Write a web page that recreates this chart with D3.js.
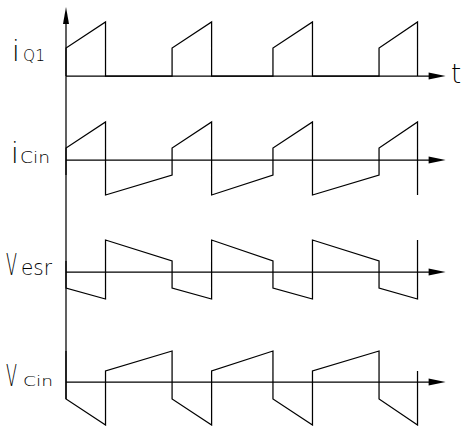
<!DOCTYPE html>
<meta charset="utf-8">
<style>
body { margin: 0; background: #fff; }
.wave { fill: none; stroke: #000; stroke-width: 1.25px; stroke-linejoin: miter; }
.axis line { stroke: #000; stroke-width: 1.25px; }
.lbl { font-family: "DejaVu Sans", sans-serif; font-weight: 200; fill: #000; }
</style>
<svg width="462" height="426"></svg>
<script src="https://d3js.org/d3.v7.min.js"></script>
<script>
// switching instants of Q1, in switching periods
var onT  = [0, 1.02, 1.99, 3.01];
var offT = [0.38, 1.40, 2.37, 3.38];
var tEnd = 3.65;

// waveform names (big letter + small suffix)
var names = [["i", "Q1"], ["i", "Cin"], ["V", "esr"], ["V", "Cin"]];

// levels of each waveform: [on start, on end, off start, off end]
var iQ1Lv  = [28, 54, 0, 0];
var iCinLv = [12, 38, -35, -15];
var vEsrLv = [-16, -27, 32, 11];
var vCinLv = [-17, -43, 11, 31];

var svg = d3.select("svg"),
    width = +svg.attr("width"),
    height = +svg.attr("height");

var x = d3.scaleLinear().domain([0, tEnd]).range([66, 445.6]);
// amplitude scale, relative to each row's zero line
var amp = d3.scaleLinear().domain([-50, 50]).range([50, -50]);
var rowY = [76, 160, 272, 382];

var line = d3.line()
    .x(function(d) { return x(d[0]); })
    .y(function(d) { return amp(d[1]); });

// build the piecewise linear wave from the levels
function wavePts(lv, pulse) {
  var pts = [];
  if (pulse) pts.push([onT[0], 0]);
  else pts.push([onT[0], lv[3]]);
  onT.forEach(function(t, i) {
    pts.push([t, lv[0]]);
    pts.push([offT[i], lv[1]]);
    pts.push([offT[i], lv[2]]);
    if (i < onT.length - 1) pts.push([onT[i + 1], lv[3]]);
  });
  return pts;
}

var waves = [wavePts(iQ1Lv, true), wavePts(iCinLv), wavePts(vEsrLv), wavePts(vCinLv)];

// vertical axis with arrow
var ax = svg.append("g").attr("class", "axis");
ax.append("line")
    .attr("x1", x(0)).attr("x2", x(0))
    .attr("y1", 20).attr("y2", rowY[3] + amp(vCinLv[0]));
ax.append("path")
    .attr("d", d3.line()([[x(0), 7], [x(0) - 3, 24], [x(0) + 3, 24]]))
    .attr("fill", "#000");

// horizontal time axes with arrows
rowY.forEach(function(y0) {
  ax.append("line")
      .attr("x1", x(0)).attr("x2", x(tEnd) - 8)
      .attr("y1", y0).attr("y2", y0);
  ax.append("path")
      .attr("d", d3.line()([[x(tEnd), y0], [x(tEnd) - 17, y0 - 3.5], [x(tEnd) - 17, y0 + 3.5]]))
      .attr("fill", "#000");
});

svg.selectAll(".wave")
  .data(waves)
  .enter().append("path")
    .attr("class", "wave")
    .attr("transform", function(d, i) { return "translate(0," + rowY[i] + ")"; })
    .attr("d", line);

// labels: big letter and small suffix, squeezed to the narrow drawing font
var bigSize = [28, 28, 30, 31], bigX = [12, 11, 6, 6], bigW = [0, 0, 11, 11];
var smSize = [16.5, 15, 22, 14], smX = [23, 20, 21, 23], smW = [22, 30, 31, 30];
var baseY = [61, 163, 275, 386];

function squeezed(txt, size, x0, y0, w) {
  var t = svg.append("text").attr("class", "lbl")
      .style("font-size", size + "px")
      .text(txt);
  var k = w ? w / t.node().getComputedTextLength() : 1;
  t.attr("transform", "translate(" + x0 + "," + y0 + ") scale(" + k + ",1)");
}

names.forEach(function(n, i) {
  squeezed(n[0], bigSize[i], bigX[i], baseY[i], bigW[i]);
  squeezed(n[1], smSize[i], smX[i], baseY[i], smW[i]);
});

svg.append("text").attr("class", "lbl")
    .attr("x", 451).attr("y", 83)
    .style("font-size", "26px")
    .text("t");
</script>
